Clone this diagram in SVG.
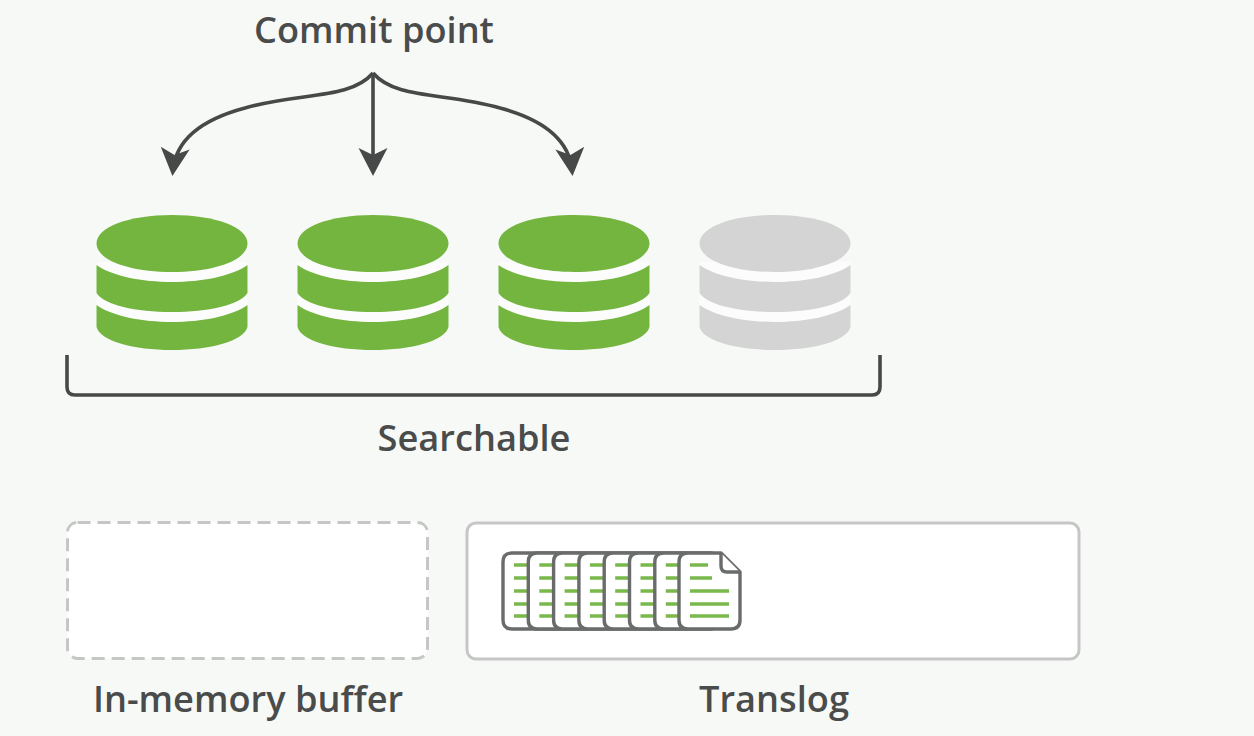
<svg xmlns="http://www.w3.org/2000/svg" xmlns:xlink="http://www.w3.org/1999/xlink" width="1254" height="736" viewBox="0 0 1254 736">
<style>
text{font-family:"Open Sans","Liberation Sans",sans-serif;font-weight:600;font-size:36.200px;fill:#4a4c4b;text-anchor:middle}
.conn{fill:none;stroke:#474948;stroke-width:3.6}
.green{fill:#73b53e}
.gray{fill:#d3d4d3}
.doc{fill:#fff;stroke:#6a6c6b;stroke-width:3.4;stroke-linejoin:round}
.ln{stroke:#79b84c;stroke-width:3.4;fill:none}
</style>
<defs>
<marker id="arrow" markerUnits="userSpaceOnUse" markerWidth="32" markerHeight="32" refX="23" refY="16" orient="auto"><path d="M1 1.500 L8 16 L1 30.500 L29 16 Z" fill="#474948"/></marker>
<path id="gaps" d="M-75.500 262 H75.500 V330 H-75.500 Z" fill="#fbfcfb"/>
<g id="cyl">
<path d="M-75.500 243.500 C-75.500 227 -43 215 0 215 C43 215 75.500 227 75.500 243.500 C75.500 260 43 272 0 272 C-43 272 -75.500 260 -75.500 243.500 Z"/>
<path d="M-75.500 265 C-60 276 -30 282 0 282 C30 282 60 276 75.500 265 V293 C68 305 36 312 0 312 C-36 312 -68 305 -75.500 293 Z"/>
<path d="M-75.500 305 C-60 316 -30 322 0 322 C30 322 60 316 75.500 305 V327 C72 341 38 350 0 350 C-38 350 -72 341 -75.500 327 Z"/>
</g>
<g id="page">
<path class="doc" d="M512 553 H560 V629 H512 Q503 629 503 620 V562 Q503 553 512 553 Z"/>
<path class="ln" d="M514 565 H530 M514 578 H530 M514 591 H530 M514 604 H530 M514 616 H530"/>
</g>
</defs>
<rect id="background" width="1254" height="736" fill="#f7f9f7"/>
<text id="label-commit" x="374" y="43">Commit point</text>
<g id="connectors">
<path class="conn" marker-end="url(#arrow)" d="M373 73 C350 100 300 92 245 108 C200 120 176 140 173 170"/>
<path class="conn" marker-end="url(#arrow)" d="M373 73 V170"/>
<path class="conn" marker-end="url(#arrow)" d="M373 73 C396 100 446 92 500 108 C545 120 569 140 572 170"/>
<path id="bracket" class="conn" d="M67 355 V387 Q67 395 75 395 H872 Q880 395 880 387 V355"/>
</g>
<g id="segment-1" class="green"><use xlink:href="#gaps" href="#gaps" x="172"/><use xlink:href="#cyl" href="#cyl" x="172"/></g>
<g id="segment-2" class="green"><use xlink:href="#gaps" href="#gaps" x="373"/><use xlink:href="#cyl" href="#cyl" x="373"/></g>
<g id="segment-3" class="green"><use xlink:href="#gaps" href="#gaps" x="574"/><use xlink:href="#cyl" href="#cyl" x="574"/></g>
<g id="segment-4" class="gray"><use xlink:href="#gaps" href="#gaps" x="775"/><use xlink:href="#cyl" href="#cyl" x="775"/></g>
<text id="label-searchable" x="474" y="451">Searchable</text>
<g id="buffer">
<rect x="67.500" y="522.500" width="360" height="136" rx="10" fill="#fff" stroke="#c5c6c5" stroke-width="3" stroke-dasharray="13 7"/>
<text x="248" y="712">In-memory buffer</text>
</g>
<g id="translog">
<rect x="467" y="523" width="612" height="136" rx="9" fill="#fff" stroke="#c5c6c5" stroke-width="3"/>
<g id="pages">
<use xlink:href="#page" href="#page"/>
<use xlink:href="#page" href="#page" x="25.300"/>
<use xlink:href="#page" href="#page" x="50.600"/>
<use xlink:href="#page" href="#page" x="75.900"/>
<use xlink:href="#page" href="#page" x="101.200"/>
<use xlink:href="#page" href="#page" x="126.500"/>
<use xlink:href="#page" href="#page" x="151.800"/>
<path class="doc" d="M688 553 H721 L740 572 V620 Q740 629 731 629 H688 Q679 629 679 620 V562 Q679 553 688 553 Z"/>
<path class="doc" d="M721 553 V566 Q721 572 727 572 H740" />
<path class="ln" d="M690 565 H708 M690 578 H712 M690 591 H729 M690 604 H729 M690 616 H729"/>
</g>
<text x="774" y="712">Translog</text>
</g>
</svg>
